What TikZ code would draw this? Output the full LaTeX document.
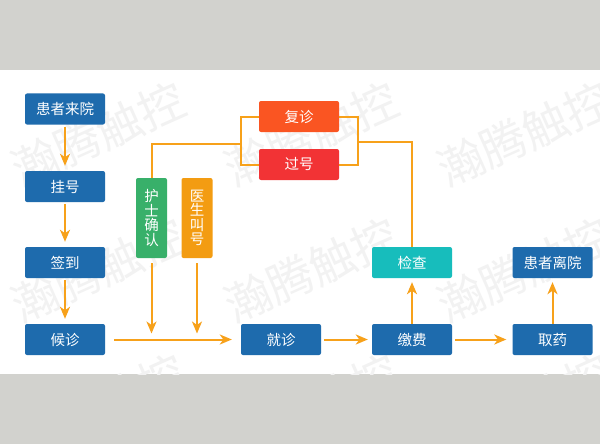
\documentclass[tikz,border=0pt]{standalone}
\usepackage{fontspec}
\newfontfamily\cjk{Noto Sans CJK SC}
\usetikzlibrary{arrows.meta}
\definecolor{bggrey}{HTML}{D2D2CE}
\definecolor{boxblue}{HTML}{1E6BAD}
\definecolor{boxgreen}{HTML}{38B06A}
\definecolor{boxorange}{HTML}{F39C12}
\definecolor{boxteal}{HTML}{17BDBC}
\definecolor{boxfu}{HTML}{FA5522}
\definecolor{boxguo}{HTML}{F23335}
\definecolor{linkorange}{HTML}{F7A11A}
\definecolor{wmgrey}{HTML}{F2F2F2}
\begin{document}
\begin{tikzpicture}[x=1pt,y=-1pt,
  box/.style={rounded corners=2pt, minimum width=80pt, minimum height=31pt, inner sep=0pt,
    text=white, font=\cjk\fontsize{14.5}{15}\selectfont},
  vbox/.style={rounded corners=2pt, minimum width=31pt, minimum height=80pt, inner sep=0pt,
    text=white, align=center, font=\cjk\fontsize{14.5}{14.5}\selectfont},
  link/.style={draw=linkorange, line width=2pt},
  arr/.style={link, -{Stealth[length=12pt,width=10pt,inset=3.5pt]}},
  wm/.style={text=wmgrey, font=\cjk\fontsize{46}{46}\selectfont, rotate=24, inner sep=0pt}]
\useasboundingbox (0,0) rectangle (600,444);
\fill[bggrey] (0,0) rectangle (600,444);
\fill[white] (0,70) rectangle (600,374);
\begin{scope}
  \clip (0,70) rectangle (600,374);
  \foreach \wx/\wy [count=\i] in {98/134,311/134,524/134,98/270,311/270,524/270,98/406,311/406,524/406}
    \node[wm] (wm\i) at (\wx,\wy) {瀚腾触控};
\end{scope}
% main column
\node[box, fill=boxblue] (laiyuan) at (65,109) {患者来院};
\node[box, fill=boxblue] (guahao) at (65,186.5) {挂号};
\node[box, fill=boxblue] (qiandao) at (65,262.5) {签到};
\node[box, fill=boxblue] (houzhen) at (65,339.5) {候诊};
\node[box, fill=boxblue] (jiuzhen) at (281,339.5) {就诊};
\node[box, fill=boxblue] (jiaofei) at (412,339.5) {缴费};
\node[box, fill=boxblue] (quyao) at (552.5,339.5) {取药};
\node[box, fill=boxteal] (jiancha) at (412,262.5) {检查};
\node[box, fill=boxblue] (liyuan) at (552.5,262.5) {患者离院};
\node[box, fill=boxfu] (fuzhen) at (299,116.5) {复诊};
\node[box, fill=boxguo] (guohao) at (299,164.5) {过号};
\node[vbox, fill=boxgreen] (hushi) at (151.5,218) {护\\士\\确\\认};
\node[vbox, fill=boxorange] (yisheng) at (197,218) {医\\生\\叫\\号};
% loop connectors
\coordinate (loopL) at (240.5,144);
\coordinate (loopR) at (358,142);
\draw[link] (fuzhen.west) -| (loopL) |- (guohao.west);
\draw[link] (fuzhen.east) -| (loopR) |- (guohao.east);
\draw[link] (loopL) -| (hushi.north);
\draw[link] (loopR) -| (jiancha.north);
% arrows
\draw[arr, shorten <=2pt, shorten >=5pt] (laiyuan) -- (guahao);
\draw[arr, shorten <=2pt, shorten >=5pt] (guahao) -- (qiandao);
\draw[arr, shorten <=2pt, shorten >=5pt] (qiandao) -- (houzhen);
\draw[arr, shorten <=9pt, shorten >=9pt] (houzhen) -- (jiuzhen);
\draw[arr, shorten <=3pt, shorten >=4pt] (jiuzhen) -- (jiaofei);
\draw[arr, shorten <=3pt, shorten >=6pt] (jiaofei) -- (quyao);
\draw[arr, shorten >=4pt] (jiaofei) -- (jiancha);
\draw[arr, shorten >=4pt] (quyao) -- (liyuan);
\draw[arr, shorten <=5pt, shorten >=6pt] (hushi) -- (hushi |- houzhen);
\draw[arr, shorten <=5pt, shorten >=6pt] (yisheng) -- (yisheng |- houzhen);
\end{tikzpicture}
\end{document}
